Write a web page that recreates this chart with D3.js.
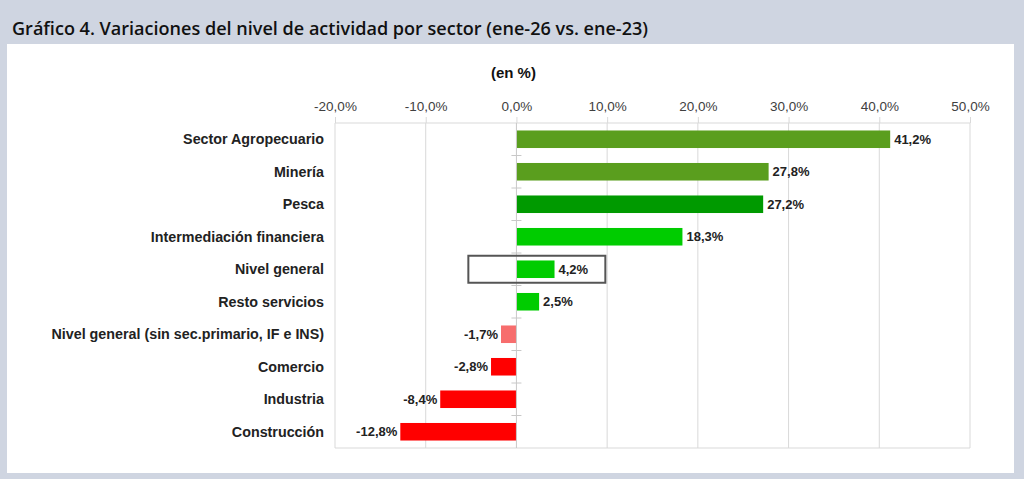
<!DOCTYPE html>
<html><head><meta charset="utf-8">
<script src="https://cdn.jsdelivr.net/npm/d3@7"></script>
<style>html,body{margin:0;padding:0;background:#cfd5e1;}svg{display:block;}</style>
</head><body>
<svg id="c" width="1024" height="479"></svg>
<script>
const categories = ["Sector Agropecuario","Minería","Pesca","Intermediación financiera","Nivel general","Resto servicios","Nivel general (sin sec.primario, IF e INS)","Comercio","Industria","Construcción"];
const values = [41.2, 27.8, 27.2, 18.3, 4.2, 2.5, -1.7, -2.8, -8.4, -12.8];
const barColors = ["#5a9e1e","#5a9e1e","#009a00","#00cc00","#00cc00","#00cc00","#f76d6d","#ff0000","#ff0000","#ff0000"];
const tickValues = [-20,-10,0,10,20,30,40,50];
const highlightCategory = "Nivel general";
const highlightRange = [-5.3, 9.8];

const fmt = d => d3.format(".1f")(d).replace("−","-").replace(".",",")+"%";

const svg = d3.select("#c");
svg.append("rect").attr("x",7).attr("y",44).attr("width",1007).attr("height",429).attr("fill","#fff");
svg.append("text").attr("x",12).attr("y",35).attr("font-family","Open Sans").attr("font-weight",600)
  .attr("font-size",17.2).attr("fill","#111").attr("textLength",636).attr("lengthAdjust","spacingAndGlyphs")
  .text("Gráfico 4. Variaciones del nivel de actividad por sector (ene-26 vs. ene-23)");

const m = {l:335, r:970, t:123, b:448};
const x = d3.scaleLinear().domain([-20,50]).range([m.l,m.r]);
const y = d3.scaleBand().domain(categories).range([m.t,m.b]).paddingInner(0.46).paddingOuter(0.23);
const yb = d3.scaleBand().domain(categories).range([m.t,m.b]);

svg.append("text").attr("x",x(0)-3).attr("y",78).attr("text-anchor","middle")
  .attr("font-family","Liberation Sans, Arial").attr("font-weight","bold").attr("font-size",15).attr("fill","#111").text("(en %)");

// gridlines
svg.append("g").selectAll("line").data(tickValues.filter(d=>d!==0)).join("line")
  .attr("x1",d=>x(d)).attr("x2",d=>x(d)).attr("y1",m.t).attr("y2",m.b).attr("stroke","#d9d9d9").attr("stroke-width",1);
svg.append("line").attr("x1",m.l).attr("x2",m.r).attr("y1",m.b).attr("y2",m.b).attr("stroke","#d9d9d9");

// top axis
const ax = d3.axisTop(x).tickValues(tickValues).tickSize(6).tickFormat(fmt);
const gA = svg.append("g").attr("transform",`translate(0,${m.t})`).call(ax);
gA.select(".domain").attr("stroke","#d9d9d9").attr("d",`M${m.l},0H${m.r}`);
gA.selectAll(".tick line").attr("stroke","#d9d9d9");
gA.selectAll(".tick text").attr("font-family","Liberation Sans, Arial").attr("font-size",13.5).attr("fill","#404040").attr("dy","-0.2em");

// bars
svg.append("g").selectAll("rect").data(values).join("rect")
  .attr("x",d=>x(Math.min(0,d))).attr("width",d=>Math.abs(x(d)-x(0)))
  .attr("y",(d,i)=>y(categories[i])).attr("height",y.bandwidth()).attr("fill",(d,i)=>barColors[i]);

// zero line with minor ticks
svg.append("line").attr("x1",x(0)).attr("x2",x(0)).attr("y1",m.t).attr("y2",m.b).attr("stroke","#c8c8c8");
svg.append("g").selectAll("line").data(categories.slice(1)).join("line")
  .attr("x1",x(0)-5).attr("x2",x(0)+5).attr("y1",d=>yb(d)).attr("y2",d=>yb(d)).attr("stroke","#c8c8c8");

// category labels
svg.append("g").selectAll("text").data(categories).join("text")
  .attr("x",324).attr("y",d=>yb(d)+yb.bandwidth()/2).attr("dy","0.35em").attr("text-anchor","end")
  .attr("font-family","Liberation Sans, Arial").attr("font-weight","bold").attr("font-size",14.3).attr("fill","#222").text(d=>d);

// value labels
svg.append("g").selectAll("text").data(values).join("text")
  .attr("x",d=>d>=0?x(d)+4:x(d)-3).attr("y",(d,i)=>yb(categories[i])+yb.bandwidth()/2).attr("dy","0.35em")
  .attr("text-anchor",d=>d>=0?"start":"end")
  .attr("font-family","Liberation Sans, Arial").attr("font-weight","bold").attr("font-size",13).attr("fill","#222")
  .text(fmt);

// highlight box
const hc = yb(highlightCategory)+yb.bandwidth()/2;
svg.append("rect").attr("x",x(highlightRange[0])).attr("width",x(highlightRange[1])-x(highlightRange[0]))
  .attr("y",hc-13.5).attr("height",27).attr("fill","none").attr("stroke","#555").attr("stroke-width",2);
</script>
</body></html>
